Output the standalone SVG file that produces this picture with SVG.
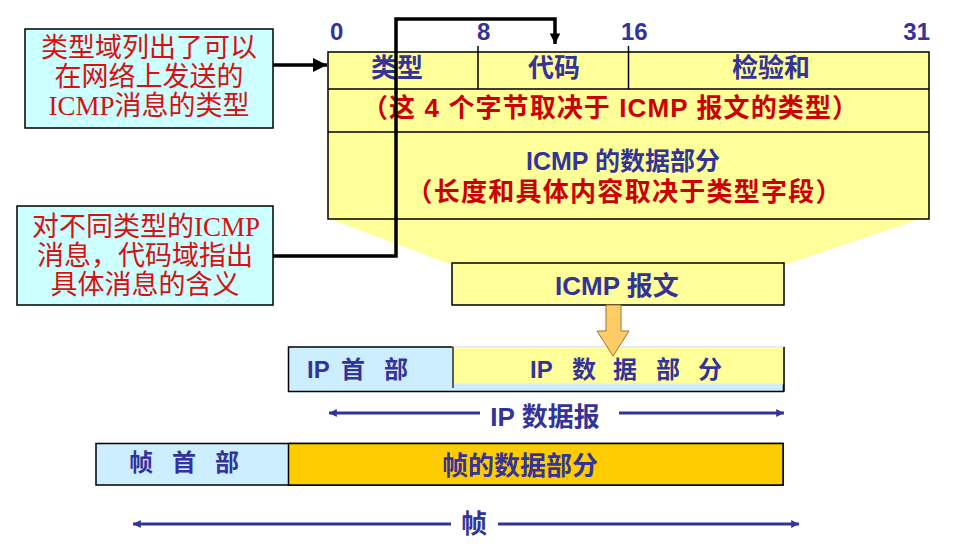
<svg xmlns="http://www.w3.org/2000/svg" width="976" height="545" viewBox="0 0 976 545">
<defs>
<style>
.sans{font-family:"Liberation Sans","Noto Sans CJK SC",sans-serif;font-weight:bold}
.serif{font-family:"Liberation Serif","Noto Sans CJK SC",serif;font-size:27px;fill:#d81010}
.blue{fill:#333399}
.red{fill:#cc0000}
.box{stroke:#000;stroke-width:1.5}
.conn{fill:none;stroke:#000;stroke-width:3.5}
.dim{stroke:#333399;stroke-width:3;fill:none}
</style>
<marker id="ah" viewBox="0 0 10 10" refX="10" refY="5" markerWidth="5" markerHeight="4" markerUnits="strokeWidth" orient="auto"><path d="M0,0 L10,5 L0,10 z" fill="#000"/></marker>
<marker id="ahs" viewBox="0 0 10 10" refX="10" refY="5" markerWidth="4" markerHeight="3" markerUnits="strokeWidth" orient="auto"><path d="M0,0 L10,5 L0,10 z" fill="#000"/></marker>
<marker id="bh" viewBox="0 0 10 10" refX="10" refY="5" markerWidth="4" markerHeight="2.6" markerUnits="strokeWidth" orient="auto-start-reverse"><path d="M0,0 L10,5 L0,10 z" fill="#333399"/></marker>
</defs>
<rect width="976" height="545" fill="#fff"/>

<g id="funnel"><polygon points="330,219 932,215 784,265 452,265" fill="#ffff99"/></g>

<g id="icmp-header">
<text class="sans blue" font-size="24" x="330" y="40">0</text>
<text class="sans blue" font-size="24" x="477" y="40">8</text>
<text class="sans blue" font-size="24" x="621" y="40">16</text>
<text class="sans blue" font-size="24" x="930" y="40" text-anchor="end">31</text>
<rect class="box" x="328" y="52" width="601" height="167" fill="#ffff99"/>
<line x1="328" y1="89" x2="929" y2="89" stroke="#000" stroke-width="1.5"/>
<line x1="328" y1="132" x2="929" y2="132" stroke="#000" stroke-width="1.5"/>
<line x1="478" y1="46" x2="478" y2="89" stroke="#000" stroke-width="1.5"/>
<line x1="628.5" y1="46" x2="628.5" y2="89" stroke="#000" stroke-width="1.5"/>
<text class="sans blue" font-size="26" x="397" y="77" text-anchor="middle">类型</text>
<text class="sans blue" font-size="26" x="554" y="77" text-anchor="middle">代码</text>
<text class="sans blue" font-size="26" x="771" y="77" text-anchor="middle">检验和</text>
<text class="sans red" font-size="26" x="610" y="117" text-anchor="middle" textLength="496">（这 4 个字节取决于 ICMP 报文的类型）</text>
<text class="sans blue" font-size="25" x="623" y="170" text-anchor="middle">ICMP 的数据部分</text>
<text class="sans red" font-size="26" x="624" y="201" text-anchor="middle" textLength="435">（长度和具体内容取决于类型字段）</text>
</g>

<g id="icmp-message">
<rect class="box" x="452" y="263" width="332" height="42" fill="#ffff99"/>
<text class="sans blue" font-size="26" x="617" y="295" text-anchor="middle">ICMP 报文</text>
</g>

<g id="callout-type">
<rect class="box" x="25" y="29" width="248" height="99" fill="#ccffff"/>
<text class="serif" x="149" y="57" text-anchor="middle">类型域列出了可以</text>
<text class="serif" x="149" y="86" text-anchor="middle">在网络上发送的</text>
<text class="serif" x="149" y="115" text-anchor="middle">ICMP消息的类型</text>
</g>

<g id="callout-code">
<rect class="box" x="17" y="206" width="256" height="99" fill="#ccffff"/>
<text class="serif" x="146" y="236" text-anchor="middle">对不同类型的ICMP</text>
<text class="serif" x="145" y="265" text-anchor="middle">消息，代码域指出</text>
<text class="serif" x="145" y="294" text-anchor="middle">具体消息的含义</text>
</g>

<g id="ip-datagram">
<rect class="box" x="288.5" y="347" width="495" height="44.5" fill="#cceeff"/>
<rect x="453" y="346.5" width="331" height="37.5" fill="#ffff99" stroke="#dde4f0" stroke-width="1"/>
<line x1="784" y1="347" x2="784" y2="391.5" stroke="#000" stroke-width="1.5"/>
<line x1="453" y1="347" x2="453" y2="388" stroke="#000" stroke-width="1.2"/>
<text class="sans blue" font-size="24"><tspan x="307" y="378">IP</tspan><tspan x="341" y="378">首</tspan><tspan x="384" y="378">部</tspan></text>
<text class="sans blue" font-size="24"><tspan x="530" y="378">IP</tspan><tspan x="572" y="378">数</tspan><tspan x="613" y="378">据</tspan><tspan x="656" y="378">部</tspan><tspan x="698" y="378">分</tspan></text>
</g>

<g id="frame">
<rect class="box" x="96" y="443.5" width="687" height="41.5" fill="#cceeff"/>
<rect class="box" x="288.5" y="443.5" width="494.5" height="41.5" fill="#ffcc00"/>
<text class="sans blue" font-size="24"><tspan x="129" y="471">帧</tspan><tspan x="172" y="471">首</tspan><tspan x="215" y="471">部</tspan></text>
<text class="sans blue" font-size="26" x="520" y="475" text-anchor="middle">帧的数据部分</text>
</g>

<g id="connectors">
<path id="arrow-orange" d="M606,305 L621,305 L621,331 L629,331 L613,356 L597,331 L606,331 Z" fill="#ffcc66" stroke="#a07030" stroke-width="1"/>
<line class="conn" x1="273" y1="65" x2="327" y2="65" marker-end="url(#ah)"/>
<polyline class="conn" points="273,256 396,256 396,19 555,19 555,44" marker-end="url(#ahs)"/>
<line class="dim" x1="480" y1="413" x2="329" y2="413" marker-end="url(#bh)"/>
<line class="dim" x1="619" y1="413" x2="784" y2="413" marker-end="url(#bh)"/>
<text class="sans blue" font-size="26" x="545" y="426" text-anchor="middle">IP 数据报</text>
<line class="dim" x1="451" y1="524" x2="133" y2="524" marker-end="url(#bh)"/>
<line class="dim" x1="498" y1="524" x2="799" y2="524" marker-end="url(#bh)"/>
<text class="sans blue" font-size="26" x="474" y="533" text-anchor="middle">帧</text>
</g>
</svg>
